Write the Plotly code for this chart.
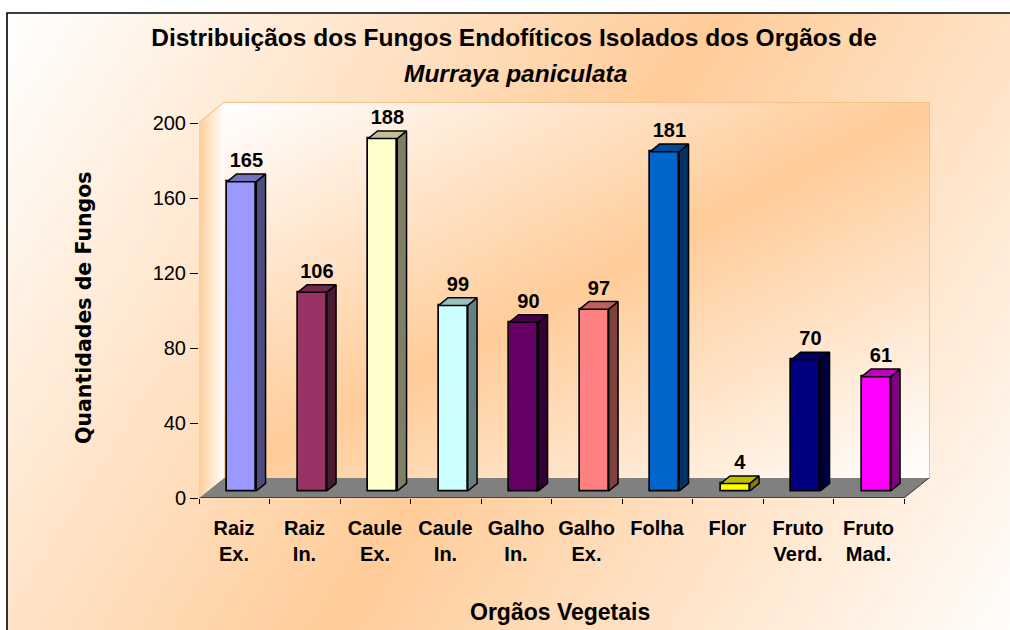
import base64
import plotly.graph_objects as go

# ---------------- data ----------------
categories = ["Raiz<br>Ex.", "Raiz<br>In.", "Caule<br>Ex.", "Caule<br>In.", "Galho<br>In.",
              "Galho<br>Ex.", "Folha", "Flor", "Fruto<br>Verd.", "Fruto<br>Mad."]
values = [165, 106, 188, 99, 90, 97, 181, 4, 70, 61]
bar_colors = ["#9999FF", "#993366", "#FFFFCC", "#CCFFFF", "#660066",
              "#FF8080", "#0066CC", "#FFFF00", "#000080", "#FF00FF"]
y_ticks = [0, 40, 80, 120, 160, 200]
title_line1 = "Distribuiçãos dos Fungos Endofíticos Isolados dos Orgãos de"
title_line2 = "Murraya paniculata"
x_title = "Orgãos Vegetais"
y_title = "Quantidades de Fungos"

# ---------------- geometry (style) ----------------
W_PX, H_PX = 1010, 630
PX0, SX = 199.0, 70.5      # x pixel of x=0, px per category
PY0, SY = 498.0, 1.875     # y pixel of y=0, px per unit
XMAX, YMAX = 10.45, 212.0
DX, DY = 25 / SX, 20 / SY          # depth of the 3D box
BX, BY = 7.5 / SX, 7 / SY          # bar front offset
DDX, DDY = 9.3 / SX, 7.6 / SY      # bar depth
BW = 29 / SX                       # bar width
PEACH = "#FFCC99"
FONT = "Liberation Sans, Arial, sans-serif"


def shade(hexcol, f):
    h = hexcol.lstrip("#")
    r, g, b = (int(h[i:i + 2], 16) for i in (0, 2, 4))
    return "#%02X%02X%02X" % (int(r * f), int(g * f), int(b * f))


def svg_uri(svg):
    return "data:image/svg+xml;base64," + base64.b64encode(svg.encode()).decode()


page_svg = f"""<svg xmlns='http://www.w3.org/2000/svg' width='{W_PX}' height='{H_PX}' viewBox='0 0 {W_PX} {H_PX}' preserveAspectRatio='none'>
<defs><linearGradient id='g' gradientUnits='userSpaceOnUse' x1='7' y1='13' x2='1030' y2='650'>
<stop offset='0' stop-color='#FFFFFF'/><stop offset='0.5' stop-color='{PEACH}'/><stop offset='1' stop-color='#FFFFFF'/>
</linearGradient></defs>
<rect x='0' y='0' width='{W_PX}' height='{H_PX}' fill='#FFFFFF'/>
<rect x='7' y='13' width='{W_PX - 7}' height='{H_PX - 13}' fill='url(#g)'/>
<path d='M 7,{H_PX} L 7,13 L {W_PX},13' fill='none' stroke='#000000' stroke-width='1.6'/>
</svg>"""

wall_svg = f"""<svg xmlns='http://www.w3.org/2000/svg' width='1000' height='1000' viewBox='0 0 1000 1000' preserveAspectRatio='none'>
<defs><linearGradient id='w' x1='0' y1='0' x2='1' y2='1'>
<stop offset='0' stop-color='#FFFFFF'/><stop offset='0.5' stop-color='{PEACH}'/><stop offset='1' stop-color='#FFFFFF'/>
</linearGradient></defs>
<rect x='0' y='0' width='1000' height='1000' fill='url(#w)'/>
</svg>"""

HT = 200 + DY
side_pts = [(0, 1000), (0, DY / HT * 1000), (1000, 0), (1000, 200 / HT * 1000)]
side_svg = f"""<svg xmlns='http://www.w3.org/2000/svg' width='1000' height='1000' viewBox='0 0 1000 1000' preserveAspectRatio='none'>
<defs><linearGradient id='s' x1='0' y1='0' x2='1' y2='0'>
<stop offset='0' stop-color='{PEACH}'/><stop offset='1' stop-color='#FFFFFF'/>
</linearGradient></defs>
<polygon points='{" ".join(f"{a:.1f},{b:.1f}" for a, b in side_pts)}' fill='url(#s)'/>
</svg>"""

fig = go.Figure()

n = len(values)
centers = [i + 0.5 + BX for i in range(n)]

# front faces
fig.add_trace(go.Bar(
    x=centers, y=values, base=BY, width=BW,
    marker=dict(color=bar_colors, line=dict(color="#000000", width=1.7)),
    hoverinfo="skip", showlegend=False,
))

# side and top faces
for c, v, col in zip(centers, values, bar_colors):
    xl, xr = c - BW / 2, c + BW / 2
    top = BY + v
    fig.add_trace(go.Scatter(
        x=[xr, xr + DDX, xr + DDX, xr, xr],
        y=[BY, BY + DDY, top + DDY, top, BY],
        mode="lines", fill="toself", fillcolor=shade(col, 0.5),
        line=dict(color="#000000", width=1.5), hoverinfo="skip", showlegend=False))
    fig.add_trace(go.Scatter(
        x=[xl, xl + DDX, xr + DDX, xr, xl],
        y=[top, top + DDY, top + DDY, top, top],
        mode="lines", fill="toself", fillcolor=shade(col, 0.75),
        line=dict(color="#000000", width=1.5), hoverinfo="skip", showlegend=False))

# data labels
fig.add_trace(go.Scatter(
    x=[c + DDX / 2 for c in centers],
    y=[BY + v + DDY + 1.0 for v in values],
    mode="text", text=[str(v) for v in values], textposition="top center",
    textfont=dict(family=FONT, size=20, color="#000000", weight="bold"),
    hoverinfo="skip", showlegend=False, cliponaxis=False))

shapes = []
# wall border
shapes.append(dict(type="rect", xref="x", yref="y", x0=DX, x1=n + DX, y0=DY, y1=200 + DY,
                   line=dict(color="#F6C28C", width=2), fillcolor="rgba(0,0,0,0)", layer="below"))
shapes.append(dict(type="line", xref="x", yref="y", x0=0, y0=200, x1=DX, y1=200 + DY,
                   line=dict(color="#F6C28C", width=2), layer="below"))
# gridlines
for t in y_ticks[1:-1]:
    shapes.append(dict(type="line", xref="x", yref="y", x0=DX, x1=n + DX, y0=t + DY, y1=t + DY,
                       line=dict(color="#3A3A3A", width=1), layer="below"))
    shapes.append(dict(type="line", xref="x", yref="y", x0=0, x1=DX, y0=t, y1=t + DY,
                       line=dict(color="#3A3A3A", width=1), layer="below"))
# floor
shapes.append(dict(type="path", xref="x", yref="y",
                   path=f"M 0,0 L {n},0 L {n + DX},{DY} L {DX},{DY} Z",
                   fillcolor="#808080", line=dict(width=0), layer="below"))
shapes.append(dict(type="line", xref="x", yref="y", x0=n, y0=0, x1=n + DX, y1=DY,
                   line=dict(color="#333333", width=1), layer="below"))
# axis lines
shapes.append(dict(type="line", xref="x", yref="y", x0=0, y0=0, x1=n, y1=0,
                   line=dict(color="#000000", width=1.2), layer="below"))
shapes.append(dict(type="line", xref="x", yref="y", x0=0, y0=0, x1=0, y1=200,
                   line=dict(color="#000000", width=1.2), layer="below"))

images = [
    dict(source=svg_uri(page_svg), xref="paper", yref="paper", x=0, y=1, sizex=1, sizey=1,
         xanchor="left", yanchor="top", sizing="stretch", layer="below"),
    dict(source=svg_uri(wall_svg), xref="x", yref="y", x=DX, y=200 + DY, sizex=n, sizey=200,
         xanchor="left", yanchor="top", sizing="stretch", layer="below"),
    dict(source=svg_uri(side_svg), xref="x", yref="y", x=0, y=200 + DY, sizex=DX, sizey=200 + DY,
         xanchor="left", yanchor="top", sizing="stretch", layer="below"),
]

annotations = [
    dict(text=f"<b><i>{title_line2}</i></b>", xref="paper", yref="paper",
         x=515 / W_PX, y=1 - 73 / H_PX, xanchor="center", yanchor="middle", showarrow=False,
         font=dict(family=FONT, size=24.5, color="#000000")),
    dict(text=f"<b>{x_title}</b>", xref="paper", yref="paper",
         x=560 / W_PX, y=1 - 612 / H_PX, xanchor="center", yanchor="middle", showarrow=False,
         font=dict(family=FONT, size=23, color="#000000")),
    dict(text=f"<b>{y_title}</b>", xref="paper", yref="paper", textangle=-90,
         x=84 / W_PX, y=1 - 308 / H_PX, xanchor="center", yanchor="middle", showarrow=False,
         font=dict(family="DejaVu Sans, sans-serif", size=20.5, color="#000000")),
]

fig.update_layout(
    width=W_PX, height=H_PX,
    margin=dict(l=0, r=0, t=0, b=0, autoexpand=False),
    paper_bgcolor="#FFFFFF", plot_bgcolor="rgba(0,0,0,0)",
    title=dict(text=f"<b>{title_line1}</b>", x=514 / W_PX, xanchor="center",
               y=1 - 37 / H_PX, yanchor="middle", yref="container",
               font=dict(family=FONT, size=24.5, color="#000000")),
    xaxis=dict(domain=[PX0 / W_PX, (PX0 + XMAX * SX) / W_PX], range=[0, XMAX],
               tickvals=list(range(n + 1)), ticktext=categories + [""],
               ticklabelshift=int(round(SX / 2)), ticklabelstandoff=7,
               ticks="outside", ticklen=5, tickcolor="#000000",
               showgrid=False, zeroline=False, showline=False, automargin=False,
               tickfont=dict(family=FONT, size=20, color="#000000", weight="bold"),
               fixedrange=True),
    yaxis=dict(domain=[(H_PX - PY0) / H_PX, (H_PX - (PY0 - YMAX * SY)) / H_PX], range=[0, YMAX],
               tickvals=y_ticks, ticks="outside", ticklen=8, tickcolor="#000000",
               showgrid=False, zeroline=False, showline=False, automargin=False,
               tickfont=dict(family=FONT, size=20, color="#000000"), fixedrange=True),
    shapes=shapes, images=images, annotations=annotations,
    bargap=0, showlegend=False,
)

fig.write_html(
    "out.html",
    config={"displayModeBar": False},
    post_script="document.body.style.margin='0px';document.body.style.overflow='hidden';",
)
